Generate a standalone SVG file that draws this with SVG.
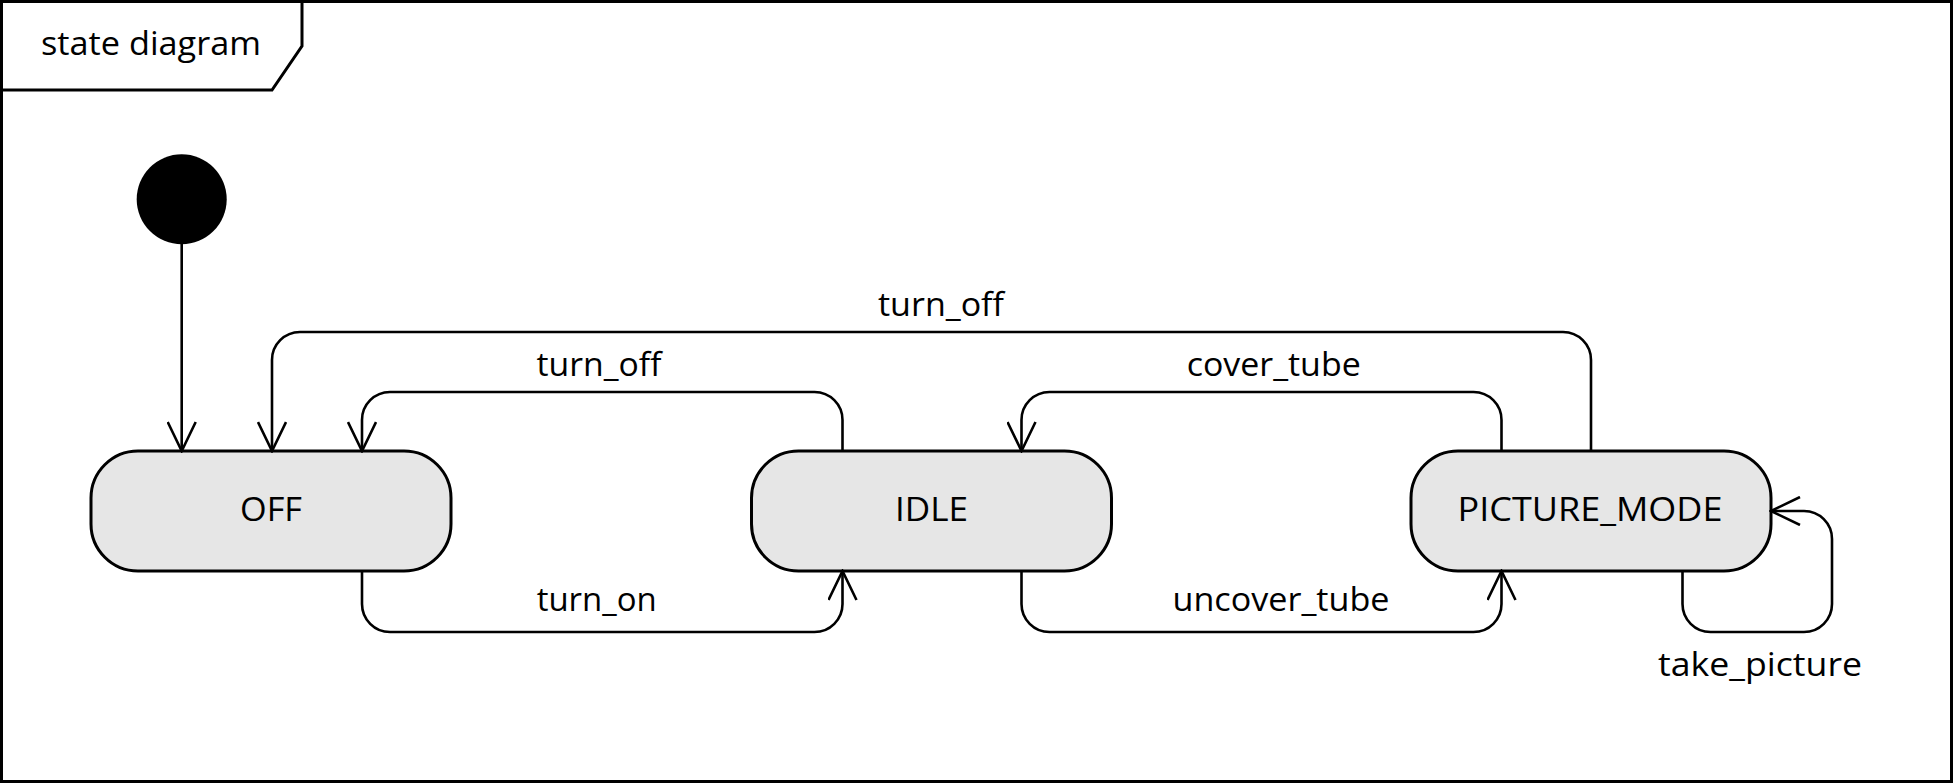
<svg xmlns="http://www.w3.org/2000/svg" width="1953" height="783" viewBox="0 0 1953 783">
<style>
.frame{fill:none;stroke:#000;stroke-width:3}
.state{fill:#e6e6e6;stroke:#000;stroke-width:3}
.edge{fill:none;stroke:#000;stroke-width:2.6;marker-end:url(#arr)}
text{font-family:"Open Sans","Noto Sans",sans-serif;font-size:32px;fill:#000}
.c{text-anchor:middle}
</style>
<defs>
<marker id="arr" markerUnits="userSpaceOnUse" viewBox="0 0 32 30" markerWidth="32" markerHeight="30" refX="30" refY="15" orient="auto">
<path d="M1,1 L30,15 L1,29" fill="none" stroke="#000" stroke-width="2.6"/>
</marker>
</defs>
<rect width="1953" height="783" fill="#fff"/>
<g id="frame">
<rect class="frame" x="1.5" y="1.5" width="1950" height="780"/>
<path class="frame" d="M1.5,90 H272 L302,46 V1.5"/>
<text x="41" y="55" textLength="220" lengthAdjust="spacingAndGlyphs">state diagram</text>
</g>
<g id="initial">
<circle cx="181.7" cy="199.3" r="45" fill="#000"/>
</g>
<g id="OFF">
<rect class="state" x="91" y="451" width="360" height="120" rx="47" ry="47"/>
<text class="c" x="271" y="521" textLength="62" lengthAdjust="spacingAndGlyphs">OFF</text>
</g>
<g id="IDLE">
<rect class="state" x="751.5" y="451" width="360" height="120" rx="47" ry="47"/>
<text class="c" x="931.5" y="521" textLength="73" lengthAdjust="spacingAndGlyphs">IDLE</text>
</g>
<g id="PICTURE_MODE">
<rect class="state" x="1411" y="451" width="360" height="120" rx="47" ry="47"/>
<text class="c" x="1590" y="521" textLength="265" lengthAdjust="spacingAndGlyphs">PICTURE_MODE</text>
</g>
<g id="connectors">
<path class="edge" d="M181.7,244 V451"/>
<path class="edge" d="M1591,451 V360 A28,28 0 0 0 1563,332 H300 A28,28 0 0 0 272,360 V451"/>
<path class="edge" d="M842.5,451 V420 A28,28 0 0 0 814.5,392 H390 A28,28 0 0 0 362,420 V451"/>
<path class="edge" d="M1501.5,451 V420 A28,28 0 0 0 1473.5,392 H1049.5 A28,28 0 0 0 1021.5,420 V451"/>
<path class="edge" d="M362,571 V604 A28,28 0 0 0 390,632 H814.5 A28,28 0 0 0 842.5,604 V571"/>
<path class="edge" d="M1021.5,571 V604 A28,28 0 0 0 1049.5,632 H1473.5 A28,28 0 0 0 1501.5,604 V571"/>
<path class="edge" d="M1682.5,571 V604 A28,28 0 0 0 1710.5,632 H1804 A28,28 0 0 0 1832,604 V539 A28,28 0 0 0 1804,511 H1771"/>
<text class="c" x="941" y="316" textLength="126" lengthAdjust="spacingAndGlyphs">turn_off</text>
<text class="c" x="599" y="376" textLength="125" lengthAdjust="spacingAndGlyphs">turn_off</text>
<text class="c" x="1273.7" y="376" textLength="174" lengthAdjust="spacingAndGlyphs">cover_tube</text>
<text class="c" x="596.7" y="611" textLength="120" lengthAdjust="spacingAndGlyphs">turn_on</text>
<text class="c" x="1281" y="611" textLength="217" lengthAdjust="spacingAndGlyphs">uncover_tube</text>
<text class="c" x="1760" y="676" textLength="204" lengthAdjust="spacingAndGlyphs">take_picture</text>
</g>
</svg>
